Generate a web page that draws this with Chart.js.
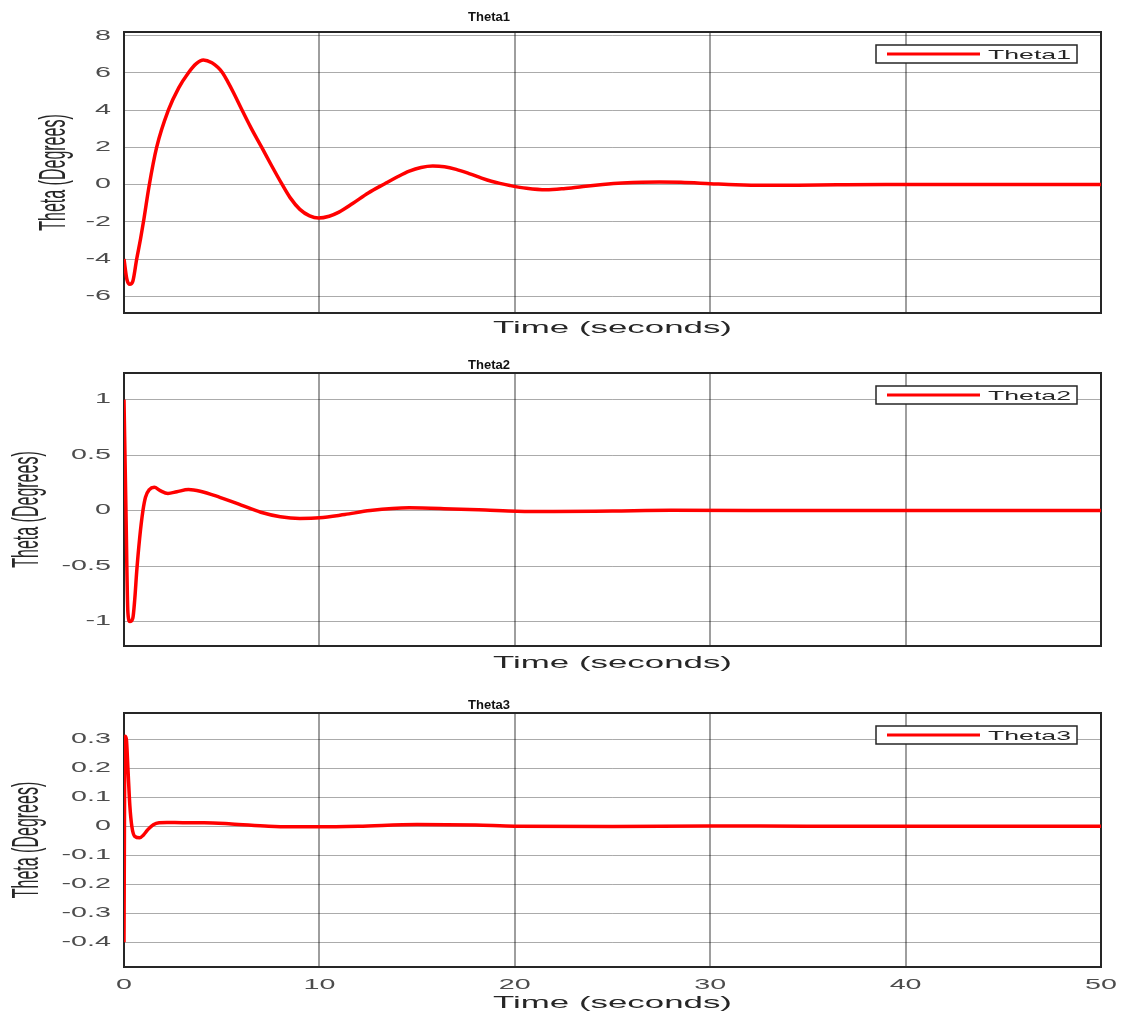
<!DOCTYPE html>
<html>
<head>
<meta charset="utf-8">
<title>Theta responses</title>
<script src="https://cdn.jsdelivr.net/npm/chart.js@4.4.0/dist/chart.umd.min.js"></script>
<style>
    html, body { margin: 0; padding: 0; background: #fff; }
    .panel { position: absolute; left: 0; width: 1124px; }
</style>
</head>
<body>
<div class="panel" style="top:0;height:345px"><canvas id="theta1Chart"></canvas></div>
<div class="panel" style="top:345px;height:335px"><canvas id="theta2Chart"></canvas></div>
<div class="panel" style="top:680px;height:335px"><canvas id="theta3Chart"></canvas></div>
<script>
/* ========================================
   Theta1..Theta3 step responses
   ======================================== */

// time axis (seconds)
const timeTicks = [0, 10, 20, 30, 40, 50];

// Theta1 (degrees)
const theta1Time = [0, 0.15, 0.3, 0.45, 0.65, 0.85, 1.02, 1.28, 1.67, 2.27, 2.8, 3.29, 3.7, 4.06, 4.5, 4.8, 5.05, 5.3, 5.6, 6.02, 6.5, 7.05, 7.5, 8.07, 8.5, 9.0, 9.5, 9.95, 10.5, 11.0, 11.7, 12.5, 13.35, 14.0, 14.6, 15.2, 15.8, 16.4, 17.0, 17.7, 18.3, 18.8, 19.3, 19.75, 20.6, 21.6, 22.5, 23.5, 24.5, 25.5, 26.5, 27.4, 28.5, 30.0, 31.3, 32.7, 34.5, 36.5, 39, 42, 46, 50];
const theta1Values = [-4.0, -5.1, -5.35, -5.2, -4.0, -2.9, -1.85, -0.1, 2.0, 4.0, 5.2, 6.0, 6.5, 6.7, 6.55, 6.3, 6.0, 5.55, 4.95, 4.05, 3.05, 2.0, 1.12, 0.05, -0.7, -1.33, -1.68, -1.8, -1.7, -1.48, -1.02, -0.45, 0.05, 0.42, 0.72, 0.92, 1.0, 0.96, 0.82, 0.58, 0.35, 0.18, 0.05, -0.05, -0.2, -0.28, -0.22, -0.1, 0.0, 0.08, 0.13, 0.14, 0.12, 0.05, -0.01, -0.04, -0.03, -0.01, 0.005, 0.0, 0.0, 0.0];
const theta1Ticks = [-6, -4, -2, 0, 2, 4, 6, 8];

// Theta2 (degrees)
const theta2Time = [0, 0.1, 0.2, 0.3, 0.45, 0.55, 0.65, 0.8, 0.97, 1.1, 1.3, 1.55, 1.85, 2.25, 2.7, 3.3, 3.9, 4.9, 6.0, 7.0, 8.0, 9.0, 10.0, 11.3, 12.6, 14.6, 16.8, 18.5, 20.1, 22, 25, 28, 32, 36, 40, 45, 50];
const theta2Values = [1.0, 0.0, -0.92, -1.0, -0.97, -0.8, -0.55, -0.25, 0.0, 0.12, 0.19, 0.21, 0.18, 0.155, 0.17, 0.19, 0.175, 0.12, 0.05, -0.015, -0.055, -0.07, -0.065, -0.035, 0.0, 0.025, 0.015, 0.005, -0.005, -0.008, -0.003, 0.003, 0.002, 0.0, 0.0, 0.0, 0.0];
const theta2Ticks = [-1, -0.5, 0, 0.5, 1];

// Theta3 (degrees)
const theta3Time = [0, 0.05, 0.12, 0.2, 0.3, 0.4, 0.55, 0.8, 1.0, 1.23, 1.5, 1.8, 2.2, 3.0, 4.1, 5.5, 7.4, 8.5, 10, 12, 15, 18, 20, 25, 30, 35, 40, 45, 50];
const theta3Values = [-0.4, 0.31, 0.3, 0.2, 0.07, 0.0, -0.035, -0.04, -0.03, -0.011, 0.005, 0.012, 0.013, 0.012, 0.012, 0.008, 0.0, -0.002, -0.002, 0.0, 0.006, 0.004, 0.0, -0.001, 0.001, 0.0, 0.0, 0.0, 0.0];
const theta3Ticks = [-0.4, -0.3, -0.2, -0.1, 0, 0.1, 0.2, 0.3];

// the source picture is stretched sideways, so plain text gets widened too
const STRETCH = 2.05;

const wideText = {
    id: 'wideText',
    beforeInit(chart) {
        const ctx = chart.ctx;
        const fill = ctx.fillText.bind(ctx);
        const measure = ctx.measureText.bind(ctx);
        const isBold = () => /bold|700/.test(ctx.font);
        ctx.fillText = function (text, x, y) {
            if (isBold()) return fill(text, x, y);
            const m = ctx.getTransform();
            ctx.save();
            ctx.translate(x, y);
            // rotated labels (y title) get widened across their own height
            if (Math.abs(m.b) > 0.01) ctx.scale(1, STRETCH + 0.2);
            else ctx.scale(STRETCH, 1);
            fill(text, 0, 0);
            ctx.restore();
        };
        ctx.measureText = function (text) {
            const r = measure(text);
            if (isBold()) return r;
            return {
                width: r.width * STRETCH,
                actualBoundingBoxAscent: r.actualBoundingBoxAscent,
                actualBoundingBoxDescent: r.actualBoundingBoxDescent
            };
        };
    }
};

// closed axes box like the matlab figure (drawn under the curve)
const boxFrame = {
    id: 'boxFrame',
    beforeDatasetsDraw(chart) {
        const { ctx, chartArea: a } = chart;
        ctx.save();
        ctx.strokeStyle = '#262626';
        ctx.lineWidth = 2;
        ctx.strokeRect(a.left, a.top, a.right - a.left, a.bottom - a.top);
        ctx.restore();
    }
};

// axes title, sits left of centre in the source figure
const plotTitle = {
    id: 'plotTitle',
    afterDraw(chart, args, opts) {
        const ctx = chart.ctx;
        ctx.save();
        ctx.font = 'bold 13px "Liberation Sans"';
        ctx.fillStyle = '#111';
        ctx.textAlign = 'center';
        ctx.textBaseline = 'middle';
        ctx.fillText(opts.text, opts.x, chart.chartArea.top - opts.gap);
        ctx.restore();
    }
};

// boxed legend in the top right corner
const boxLegend = {
    id: 'boxLegend',
    afterDraw(chart) {
        const { ctx, chartArea: a } = chart;
        const ds = chart.data.datasets[0];
        const w = 201, h = 18;
        const x = a.right - 24 - w, y = a.top + 13;
        ctx.save();
        ctx.fillStyle = '#fff';
        ctx.fillRect(x, y, w, h);
        ctx.strokeStyle = '#262626';
        ctx.lineWidth = 1.5;
        ctx.strokeRect(x, y, w, h);
        ctx.strokeStyle = ds.borderColor;
        ctx.lineWidth = 3;
        ctx.beginPath();
        ctx.moveTo(x + 11, y + h / 2);
        ctx.lineTo(x + 104, y + h / 2);
        ctx.stroke();
        ctx.fillStyle = '#262626';
        ctx.font = '13px "Liberation Sans"';
        ctx.textAlign = 'left';
        ctx.textBaseline = 'middle';
        ctx.fillText(ds.label, x + 112, y + h / 2 + 1);
        ctx.restore();
    }
};

function makeChart(canvasId, opt) {
    const ctx = document.getElementById(canvasId);
    const points = opt.time.map((t, i) => ({ x: t, y: opt.values[i] }));

    return new Chart(ctx, {
        type: 'line',
        data: {
            datasets: [{
                label: opt.label,
                data: points,
                borderColor: '#ff0000',
                borderWidth: 3.5,
                pointRadius: 0,
                cubicInterpolationMode: opt.smooth,
                tension: 0.3,
                fill: false
            }]
        },
        plugins: [wideText, boxFrame, plotTitle, boxLegend],
        options: {
            animation: false,
            responsive: true,
            maintainAspectRatio: false,
            layout: { padding: { left: 14, right: 23, top: opt.areaTop, bottom: 0 } },
            plugins: {
                legend: { display: false },
                tooltip: { enabled: false },
                title: { display: false },
                plotTitle: { text: opt.label, x: 489, gap: opt.titleGap }
            },
            scales: {
                x: {
                    type: 'linear',
                    min: 0,
                    max: 50,
                    afterBuildTicks: scale => { scale.ticks = timeTicks.map(v => ({ value: v })); },
                    afterFit: scale => {
                        scale.height = opt.xHeight;
                        scale.paddingLeft = 0;
                        scale.paddingRight = 0;
                    },
                    grid: { color: 'rgba(0, 0, 0, 0.38)', lineWidth: 2, drawTicks: false },
                    border: { display: false },
                    ticks: {
                        display: opt.showX,
                        padding: 10,
                        color: '#4d4d4d',
                        font: { family: 'Liberation Sans', size: 14 },
                        maxRotation: 0,
                        autoSkip: false
                    },
                    title: {
                        display: true,
                        text: 'Time (seconds)',
                        color: '#262626',
                        font: { family: 'Liberation Sans', size: 17, lineHeight: '18px' },
                        padding: { top: 0, bottom: opt.xTitlePad }
                    }
                },
                y: {
                    min: opt.yMin,
                    max: opt.yMax,
                    afterBuildTicks: scale => { scale.ticks = opt.yTicks.map(v => ({ value: v })); },
                    afterFit: scale => {
                        scale.width = 110;
                        scale.paddingTop = 0;
                        scale.paddingBottom = 0;
                    },
                    grid: { color: 'rgba(0, 0, 0, 0.33)', lineWidth: 1, drawTicks: false },
                    border: { display: false },
                    ticks: {
                        padding: 13,
                        color: '#4d4d4d',
                        font: { family: 'Liberation Sans', size: 14 },
                        callback: value => String(value)
                    },
                    title: {
                        display: true,
                        text: 'Theta (Degrees)',
                        color: '#262626',
                        font: { family: 'Liberation Sans', size: 16, lineHeight: '16px' },
                        padding: { top: opt.yTitlePad, bottom: 0 }
                    }
                }
            }
        }
    });
}

makeChart('theta1Chart', {
    label: 'Theta1', time: theta1Time, values: theta1Values, smooth: 'monotone',
    yMin: -6.9, yMax: 8.2, yTicks: theta1Ticks,
    areaTop: 32, titleGap: 15, xHeight: 32, xTitlePad: 8, yTitlePad: 33, showX: false
});

makeChart('theta2Chart', {
    label: 'Theta2', time: theta2Time, values: theta2Values, smooth: 'monotone',
    yMin: -1.22, yMax: 1.24, yTicks: theta2Ticks,
    areaTop: 28, titleGap: 8, xHeight: 34, xTitlePad: 8, yTitlePad: 6, showX: false
});

makeChart('theta3Chart', {
    label: 'Theta3', time: theta3Time, values: theta3Values, smooth: 'monotone',
    yMin: -0.485, yMax: 0.39, yTicks: theta3Ticks,
    areaTop: 33, titleGap: 8, xHeight: 48, xTitlePad: 3, yTitlePad: 6, showX: true
});
</script>
</body>
</html>
